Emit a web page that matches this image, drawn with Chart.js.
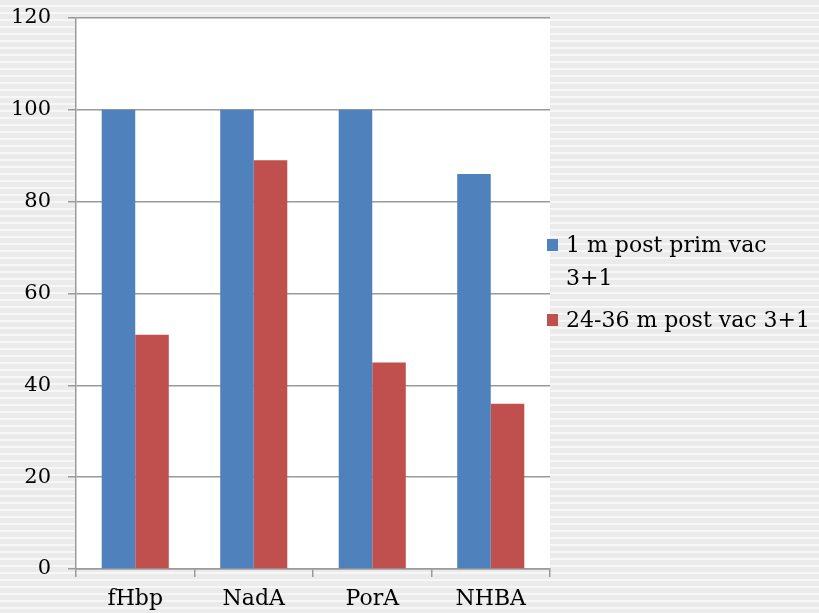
<!DOCTYPE html>
<html>
<head>
<meta charset="utf-8">
<script src="https://cdn.jsdelivr.net/npm/chart.js@4.4.0/dist/chart.umd.min.js"></script>
<style>
  html, body { margin: 0; padding: 0; }
  body {
    width: 819px; height: 613px; overflow: hidden;
    background: repeating-linear-gradient(to bottom, #ebebeb 0px, #ebebeb 5px, #f7f7f7 5px, #f7f7f7 7px);
  }
  #wrap { position: relative; width: 819px; height: 613px; }
</style>
</head>
<body>
<div id="wrap"><canvas id="c" width="819" height="613"></canvas></div>
<script>
const categories = ['fHbp', 'NadA', 'PorA', 'NHBA'];
const seriesNames = [['1 m post prim vac', '3+1'], ['24-36 m post vac 3+1']];
const primaryValues = [100, 100, 100, 86];
const boosterValues = [51, 89, 45, 36];
const yTicks = [0, 20, 40, 60, 80, 100, 120];

const FONT = '"DejaVu Serif", "Liberation Serif", serif';
const colors = ['#4f81bd', '#c0504d'];

// white plot area behind the bars
const plotBackground = {
  id: 'plotBackground',
  beforeDraw(chart) {
    const { ctx, chartArea: a } = chart;
    ctx.save();
    ctx.fillStyle = '#ffffff';
    ctx.fillRect(a.left, a.top, a.right - a.left, a.bottom - a.top);
    ctx.restore();
  }
};

// legend on the right, with the first entry wrapped over two lines
const sideLegend = {
  id: 'sideLegend',
  afterDraw(chart) {
    const { ctx } = chart;
    const entries = [{ y: 245, lines: seriesNames[0] }, { y: 320, lines: seriesNames[1] }];
    ctx.save();
    ctx.font = '22px ' + FONT;
    ctx.textBaseline = 'middle';
    entries.forEach((e, i) => {
      ctx.fillStyle = colors[i];
      ctx.fillRect(547, e.y - 6, 11, 12);
      ctx.fillStyle = '#000';
      e.lines.forEach((t, j) => ctx.fillText(t, 566, e.y + 1 + j * 33));
    });
    ctx.restore();
  }
};

new Chart(document.getElementById('c'), {
  type: 'bar',
  data: {
    labels: categories,
    datasets: [
      { label: seriesNames[0].join(' '), data: primaryValues, backgroundColor: colors[0] },
      { label: seriesNames[1].join(' '), data: boosterValues, backgroundColor: colors[1] }
    ]
  },
  options: {
    responsive: false,
    animation: false,
    layout: { padding: { left: 0, right: 269, top: 18, bottom: 0 } },
    datasets: { bar: { categoryPercentage: 0.566, barPercentage: 1.0, borderWidth: 0 } },
    plugins: { legend: { display: false }, tooltip: { enabled: false } },
    scales: {
      x: {
        offset: true,
        grid: { display: true, offset: true, drawOnChartArea: false, color: '#9a9a9a', lineWidth: 1.5, tickLength: 8 },
        border: { color: '#9a9a9a', width: 1.5 },
        ticks: { color: '#000', font: { family: FONT, size: 22 }, padding: 9 },
        afterFit(s) { s.height = 44; s.paddingLeft = 0; s.paddingRight = 0; }
      },
      y: {
        min: 0, max: 120,
        afterBuildTicks(s) { s.ticks = yTicks.map(v => ({ value: v })); },
        grid: { color: '#9a9a9a', lineWidth: 1.5, tickLength: 8 },
        border: { color: '#9a9a9a', width: 1.5 },
        ticks: { color: '#000', font: { family: FONT, size: 21 }, padding: 17 },
        afterFit(s) { s.width = 76; s.paddingTop = 0; s.paddingBottom = 0; }
      }
    }
  },
  plugins: [plotBackground, sideLegend]
});
</script>
</body>
</html>
